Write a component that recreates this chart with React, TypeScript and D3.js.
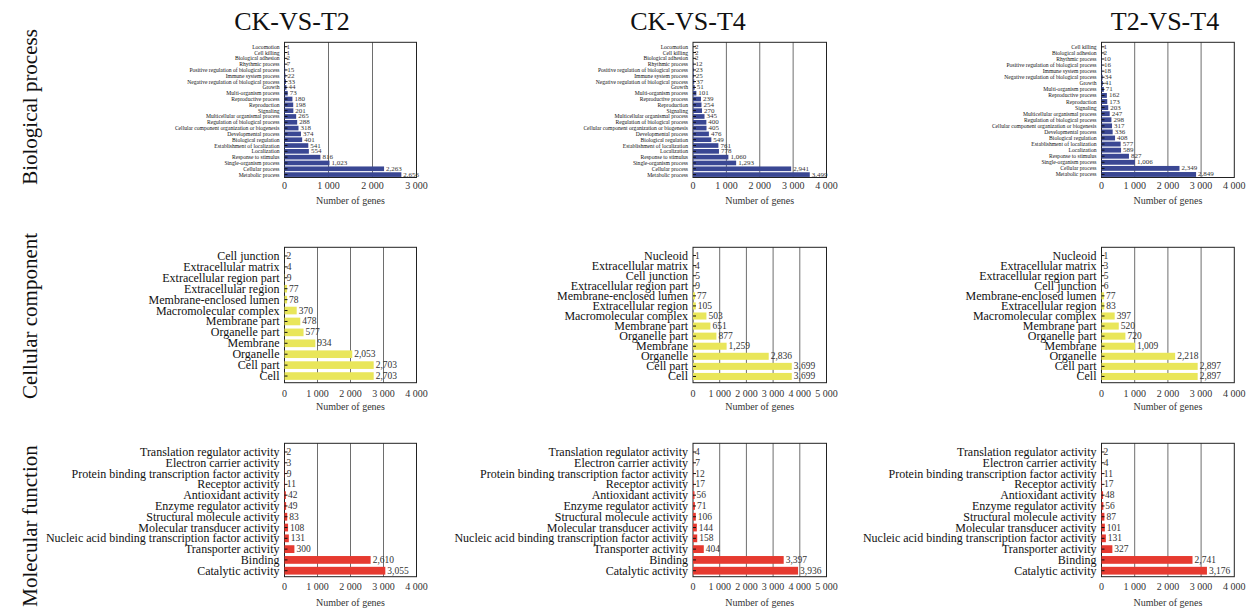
import React from 'react';
import * as d3 from 'd3';

// Biological process categories (top to bottom)
const bpNames = [
  'Locomotion', 'Cell killing', 'Biological adhesion', 'Rhythmic process',
  'Positive regulation of biological process', 'Immune system process',
  'Negative regulation of biological process', 'Growth', 'Multi-organism process',
  'Reproductive process', 'Reproduction', 'Signaling', 'Multicellular organismal process',
  'Regulation of biological process', 'Cellular component organization or biogenesis',
  'Developmental process', 'Biological regulation', 'Establishment of localization',
  'Localization', 'Response to stimulus', 'Single-organism process',
  'Cellular process', 'Metabolic process',
];
const bpNamesT2T4 = bpNames.slice(1);
const bpCkT2 = [1, 1, 2, 7, 15, 22, 33, 44, 73, 180, 198, 201, 265, 288, 318, 374, 401, 541, 554, 816, 1023, 2263, 2656];
const bpCkT4 = [2, 2, 2, 12, 23, 25, 37, 51, 101, 239, 254, 270, 345, 400, 405, 476, 549, 761, 778, 1060, 1293, 2941, 3499];
const bpT2T4 = [1, 2, 10, 16, 18, 34, 41, 71, 162, 173, 203, 247, 298, 317, 336, 408, 577, 589, 827, 1006, 2349, 2849];

// Cellular component
const ccNamesCkT2 = [
  'Cell junction', 'Extracellular matrix', 'Extracellular region part', 'Extracellular region',
  'Membrane-enclosed lumen', 'Macromolecular complex', 'Membrane part', 'Organelle part',
  'Membrane', 'Organelle', 'Cell part', 'Cell',
];
const ccNamesCkT4 = [
  'Nucleoid', 'Extracellular matrix', 'Cell junction', 'Extracellular region part',
  'Membrane-enclosed lumen', 'Extracellular region', 'Macromolecular complex', 'Membrane part',
  'Organelle part', 'Membrane', 'Organelle', 'Cell part', 'Cell',
];
const ccNamesT2T4 = [
  'Nucleoid', 'Extracellular matrix', 'Extracellular region part', 'Cell junction',
  'Membrane-enclosed lumen', 'Extracellular region', 'Macromolecular complex', 'Membrane part',
  'Organelle part', 'Membrane', 'Organelle', 'Cell part', 'Cell',
];
const ccCkT2 = [2, 4, 9, 77, 78, 370, 478, 577, 934, 2053, 2703, 2703];
const ccCkT4 = [1, 4, 5, 9, 77, 105, 503, 651, 877, 1259, 2836, 3699, 3699];
const ccT2T4 = [1, 3, 5, 6, 77, 83, 397, 520, 720, 1009, 2218, 2897, 2897];

// Molecular function
const mfNames = [
  'Translation regulator activity', 'Electron carrier activity',
  'Protein binding transcription factor activity', 'Receptor activity',
  'Antioxidant activity', 'Enzyme regulator activity', 'Structural molecule activity',
  'Molecular transducer activity', 'Nucleic acid binding transcription factor activity',
  'Transporter activity', 'Binding', 'Catalytic activity',
];
const mfCkT2 = [2, 3, 9, 11, 42, 49, 83, 108, 131, 300, 2610, 3055];
const mfCkT4 = [4, 7, 12, 17, 56, 71, 106, 144, 158, 404, 3397, 3936];
const mfT2T4 = [2, 4, 11, 17, 48, 56, 87, 101, 131, 327, 2741, 3176];

const comparisons = ['CK-VS-T2', 'CK-VS-T4', 'T2-VS-T4'];
const ontologies = ['Biological process', 'Cellular component', 'Molecular function'];

const FONT = "'Liberation Serif', 'Times New Roman', serif";
const tickFmt = d3.formatLocale({ decimal: '.', thousands: ' ', grouping: [3], currency: ['', ''] }).format(',');
const valFmt = d3.format(',');

const colLeft = [284.5, 693, 1101.5];
const colRight = [416.5, 826.5, 1234.3];
const colMax = [[3000, 4000, 4000], [4000, 5000, 4000], [4000, 5000, 4000]];
const titleX = [292, 688, 1165];

const rows = [
  { top: 42.3, bottom: 177.5, bandTop: 1.5, bandBot: 0, pad: 0.2, color: '#3a4793', cat: 5.6, val: 7, tickDy: 11, labDy: 26, rowY: 107 },
  { top: 247.3, bottom: 382.7, bandTop: 3.2, bandBot: -1.2, pad: 0.3, color: '#e9e65a', cat: 12, val: 9.5, tickDy: 14, labDy: 27.5, rowY: 316 },
  { top: 443.3, bottom: 576.7, bandTop: 3.3, bandBot: -0.6, pad: 0.28, color: '#e63a30', cat: 12, val: 9.5, tickDy: 13.5, labDy: 29, rowY: 526 },
];

const panelData = [
  [[bpNames, bpCkT2], [bpNames, bpCkT4], [bpNamesT2T4, bpT2T4]],
  [[ccNamesCkT2, ccCkT2], [ccNamesCkT4, ccCkT4], [ccNamesT2T4, ccT2T4]],
  [[mfNames, mfCkT2], [mfNames, mfCkT4], [mfNames, mfT2T4]],
];

function Panel({ names, values, r, c }) {
  const row = rows[r];
  const max = colMax[r][c];
  const x = d3.scaleLinear().domain([0, max]).range([colLeft[c], colRight[c]]);
  const y = d3.scaleBand()
    .domain(names)
    .range([row.top + row.bandTop, row.bottom + row.bandBot])
    .paddingInner(row.pad)
    .paddingOuter(row.pad / 2);
  const ticks = d3.range(0, max + 1, 1000);
  const x0 = x(0);
  return (
    <g>
      {ticks.filter(t => t > 0 && t < max).map(t => (
        <line key={t} x1={x(t)} x2={x(t)} y1={row.top} y2={row.bottom} stroke="#6e6e6e" strokeWidth={1} />
      ))}
      <rect x={x0} y={row.top} width={x(max) - x0} height={row.bottom - row.top} fill="none" stroke="#222" strokeWidth={1} />
      {names.map((n, i) => (
        <g key={n}>
          <rect x={x0} y={y(n)} width={x(values[i]) - x0} height={y.bandwidth()} fill={row.color} />
          <line x1={x0} x2={x0 + 3} y1={y(n) + y.bandwidth() / 2} y2={y(n) + y.bandwidth() / 2} stroke="#111" strokeWidth={1} />
          <text x={x0 - 5} y={y(n) + y.bandwidth() / 2} textAnchor="end" dominantBaseline="central"
            fontSize={row.cat} fill="#111">{n}</text>
          <text x={x(values[i]) + 2} y={y(n) + y.bandwidth() / 2} dominantBaseline="central"
            fontSize={row.val} fill="#333">{valFmt(values[i])}</text>
        </g>
      ))}
      {ticks.map(t => (
        <text key={t} x={x(t)} y={row.bottom + row.tickDy} textAnchor="middle" fontSize={10} fill="#333">{tickFmt(t)}</text>
      ))}
      <text x={(x0 + x(max)) / 2} y={row.bottom + row.labDy} textAnchor="middle" fontSize={10} fill="#333">Number of genes</text>
    </g>
  );
}

export default function App() {
  return (
    <svg width={1251} height={609} style={{ position: 'absolute', left: 0, top: 0, background: '#fff' }}
      fontFamily={FONT}>
      {comparisons.map((t, c) => (
        <text key={t} x={titleX[c]} y={30} textAnchor="middle" fontSize={26} fill="#111">{t}</text>
      ))}
      {ontologies.map((o, r) => (
        <text key={o} transform={`translate(30,${rows[r].rowY}) rotate(-90)`} textAnchor="middle"
          dominantBaseline="central" fontSize={21} fill="#111">{o}</text>
      ))}
      {panelData.map((rowPanels, r) => rowPanels.map(([names, values], c) => (
        <Panel key={`${r}-${c}`} names={names} values={values} r={r} c={c} />
      )))}
    </svg>
  );
}
